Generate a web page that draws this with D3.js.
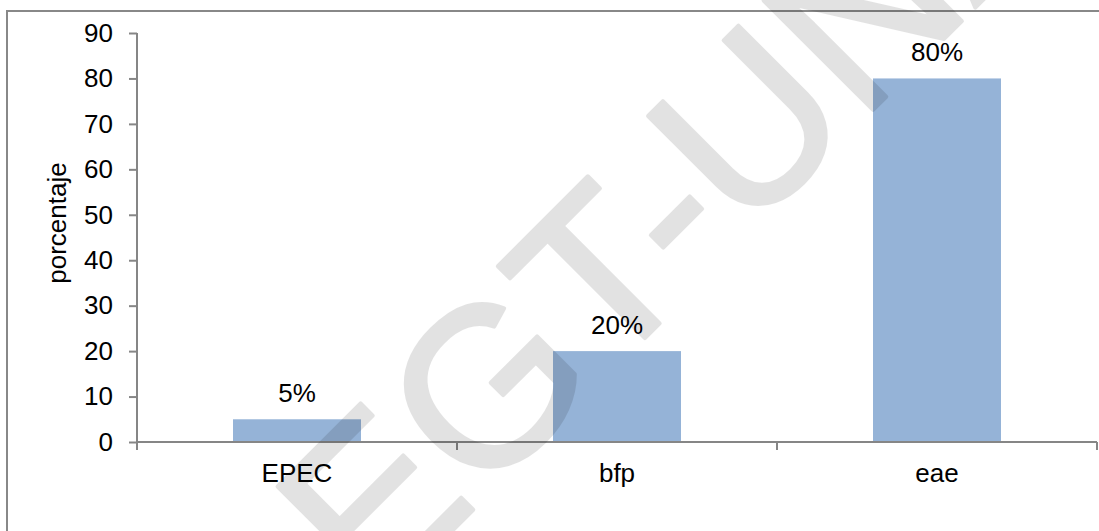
<!DOCTYPE html>
<html>
<head>
<meta charset="utf-8">
<script src="https://cdn.jsdelivr.net/npm/d3@7"></script>
<style>
  body { margin: 0; background: #fff; }
  svg { display: block; font-family: "Liberation Sans", Arial, sans-serif; }
</style>
</head>
<body>
<div id="chart-container"></div>
<script>
// Chart data.
const categories = ["EPEC", "bfp", "eae"];
const values = [5, 20, 80];
const valueLabels = ["5%", "20%", "80%"];
const yTicks = [0, 10, 20, 30, 40, 50, 60, 70, 80, 90];
const yTitle = "porcentaje";
const watermarkText = "DEGT-UNAN";

const width = 1099;
const height = 531;
const margin = {top: 33, right: 2, bottom: 89, left: 137};

const svg = d3.select("#chart-container").append("svg")
    .attr("width", width)
    .attr("height", height);

// Outer chart frame (runs off the right and bottom edges).
svg.append("rect")
    .attr("x", 7).attr("y", 11)
    .attr("width", width + 20).attr("height", height + 20)
    .attr("fill", "none")
    .attr("stroke", "#888")
    .attr("stroke-width", 2);

const x = d3.scaleBand()
    .domain(categories)
    .range([margin.left, width - margin.right])
    .paddingInner(0.6)
    .paddingOuter(0.3);

const y = d3.scaleLinear()
    .domain([0, 90])
    .range([height - margin.bottom, margin.top]);

// Bars.
svg.append("g")
    .selectAll("rect")
    .data(values)
    .join("rect")
    .attr("x", (d, i) => x(categories[i]))
    .attr("y", d => y(d))
    .attr("width", x.bandwidth())
    .attr("height", d => y(0) - y(d))
    .attr("fill", "#95b3d7");

// Y axis.
const yAxis = svg.append("g")
    .attr("transform", `translate(${margin.left},0)`)
    .call(d3.axisLeft(y).tickValues(yTicks).tickSize(8).tickPadding(16));
yAxis.select(".domain").attr("stroke", "#868686").attr("stroke-width", 2)
    .attr("d", `M0,${y(90)}V${y(0)}`);
yAxis.selectAll(".tick line").attr("stroke", "#868686").attr("stroke-width", 2);
yAxis.selectAll(".tick text")
    .attr("fill", "#000")
    .style("font-size", "26px")
    .style("font-family", "Liberation Sans, Arial, sans-serif");

// X axis with tick marks on the category boundaries.
const bounds = d3.range(categories.length + 1).map(i => margin.left + i * (width - margin.right - margin.left) / categories.length);
const xAxis = svg.append("g");
xAxis.append("line")
    .attr("x1", margin.left).attr("x2", bounds[bounds.length - 1])
    .attr("y1", y(0)).attr("y2", y(0))
    .attr("stroke", "#868686").attr("stroke-width", 2);
xAxis.selectAll("line.tick")
    .data(bounds)
    .join("line")
    .attr("class", "tick")
    .attr("x1", d => d).attr("x2", d => d)
    .attr("y1", y(0)).attr("y2", y(0) + 8)
    .attr("stroke", "#868686").attr("stroke-width", 2);
xAxis.selectAll("text")
    .data(categories)
    .join("text")
    .attr("x", d => x(d) + x.bandwidth() / 2)
    .attr("y", y(0) + 40)
    .attr("text-anchor", "middle")
    .style("font-size", "26px")
    .text(d => d);

// Value labels above bars.
svg.append("g")
    .selectAll("text")
    .data(values)
    .join("text")
    .attr("x", (d, i) => x(categories[i]) + x.bandwidth() / 2)
    .attr("y", d => y(d) - 17)
    .attr("text-anchor", "middle")
    .style("font-size", "26px")
    .text((d, i) => valueLabels[i]);

// Y axis title.
svg.append("text")
    .attr("transform", "translate(66,223) rotate(-90)")
    .attr("text-anchor", "middle")
    .style("font-size", "26px")
    .text(yTitle);

// Watermark, drawn over the bars.
svg.append("g")
    .attr("opacity", 0.11)
    .style("pointer-events", "none")
  .append("text")
    .attr("transform", "translate(259,724) rotate(-45)")
    .attr("fill", "#000")
    .attr("stroke", "#000")
    .attr("stroke-width", 4)
    .attr("stroke-linejoin", "round")
    .style("font-size", "225px")
    .text(watermarkText);
</script>
</body>
</html>
